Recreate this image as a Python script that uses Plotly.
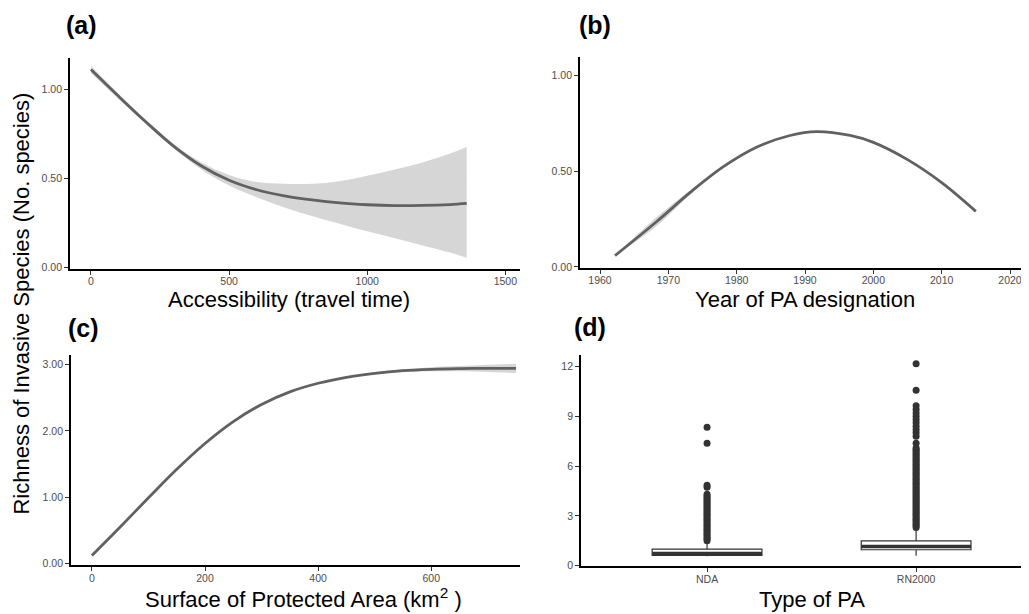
import plotly.graph_objects as go

# ---------------- data ----------------
# (a) Accessibility
a_x = [0, 100, 200, 300, 400, 500, 600, 700, 800, 900, 1000, 1100, 1200, 1300, 1360]
a_fit = [1.11, 0.96, 0.815, 0.68, 0.57, 0.49, 0.437, 0.403, 0.38, 0.363, 0.353, 0.348, 0.349, 0.354, 0.36]
a_upper = [1.13, 0.975, 0.827, 0.692, 0.59, 0.52, 0.48, 0.47, 0.47, 0.485, 0.515, 0.55, 0.59, 0.64, 0.676]
a_lower = [1.09, 0.945, 0.803, 0.668, 0.55, 0.46, 0.395, 0.338, 0.29, 0.247, 0.204, 0.165, 0.125, 0.085, 0.056]
a_xticks = [0, 500, 1000, 1500]
a_yticks = [0.0, 0.5, 1.0]
a_ytext = ["0.00", "0.50", "1.00"]

# (b) Year of designation
b_x = [1962.2, 1968.3, 1973.2, 1978.0, 1982.9, 1987.8, 1991.7, 1996.6, 2000, 2005, 2010, 2015]
b_fit = [0.059, 0.237, 0.389, 0.522, 0.625, 0.686, 0.706, 0.686, 0.65, 0.56, 0.44, 0.29]
b_upper = [0.059, 0.26, 0.40, 0.527, 0.628, 0.689, 0.709, 0.689, 0.653, 0.563, 0.443, 0.293]
b_lower = [0.059, 0.214, 0.378, 0.517, 0.622, 0.683, 0.703, 0.683, 0.647, 0.557, 0.437, 0.287]
b_xticks = [1960, 1970, 1980, 1990, 2000, 2010, 2020]
b_yticks = [0.0, 0.5, 1.0]
b_ytext = ["0.00", "0.50", "1.00"]

# (c) Surface of PA
c_x = [0, 50, 100, 150, 200, 250, 300, 350, 400, 450, 500, 550, 600, 650, 700, 750]
c_fit = [0.12, 0.55, 0.99, 1.42, 1.81, 2.14, 2.40, 2.59, 2.72, 2.81, 2.87, 2.91, 2.93, 2.94, 2.945, 2.945]
c_upper = [0.13, 0.56, 1.0, 1.43, 1.82, 2.15, 2.41, 2.60, 2.73, 2.82, 2.885, 2.93, 2.96, 2.98, 3.0, 3.015]
c_lower = [0.11, 0.54, 0.98, 1.41, 1.80, 2.13, 2.39, 2.58, 2.71, 2.80, 2.855, 2.89, 2.90, 2.90, 2.89, 2.875]
c_xticks = [0, 200, 400, 600]
c_yticks = [0.0, 1.0, 2.0, 3.0]
c_ytext = ["0.00", "1.00", "2.00", "3.00"]

# (d) Type of PA (box statistics)
d_types = ["NDA", "RN2000"]
d_q1 = [0.62, 0.96]
d_median = [0.74, 1.15]
d_q3 = [1.0, 1.5]
d_lowerfence = [0.57, 0.6]
d_upperfence = [1.4, 2.2]
d_out_nda = [1.5, 1.6, 1.7, 1.8, 1.9, 2.0, 2.1, 2.2, 2.3, 2.4, 2.5, 2.6, 2.7, 2.8, 2.9,
             3.0, 3.1, 3.2, 3.3, 3.4, 3.5, 3.6, 3.7, 3.8, 3.9, 4.0, 4.1, 4.2, 4.3,
             4.72, 4.85, 7.38, 8.33]
d_out_rn = [2.3, 2.4, 2.5, 2.6, 2.7, 2.8, 2.9, 3.0, 3.1, 3.2, 3.3, 3.4, 3.5, 3.6, 3.7,
            3.8, 3.9, 4.0, 4.1, 4.2, 4.3, 4.4, 4.5, 4.6, 4.7, 4.8, 4.9, 5.0, 5.1, 5.2,
            5.3, 5.4, 5.5, 5.6, 5.7, 5.8, 5.9, 6.0, 6.1, 6.2, 6.3, 6.4, 6.5, 6.6, 6.7,
            6.8, 6.9, 7.0, 7.08, 7.38, 7.8, 8.0, 8.2, 8.4, 8.6, 8.8, 9.0, 9.2, 9.4,
            9.63, 10.57, 12.16]
d_yticks = [0, 3, 6, 9, 12]

# ---------------- style ----------------
LINE = "#616161"
BAND = "rgb(214,214,214)"
FONT = "Liberation Sans, Arial, sans-serif"
TICKC = "#4d4d4d"

fig = go.Figure()


def add_smooth(x, fit, up, lo, xa, ya):
    fig.add_trace(go.Scatter(x=x, y=lo, mode="lines",
                             line=dict(width=0, shape="spline", color=BAND),
                             hoverinfo="skip", xaxis=xa, yaxis=ya))
    fig.add_trace(go.Scatter(x=x, y=up, mode="lines", fill="tonexty",
                             fillcolor=BAND, line=dict(width=0, shape="spline", color=BAND),
                             hoverinfo="skip", xaxis=xa, yaxis=ya))
    fig.add_trace(go.Scatter(x=x, y=fit, mode="lines",
                             line=dict(color=LINE, width=2.8, shape="spline"),
                             xaxis=xa, yaxis=ya))


add_smooth(a_x, a_fit, a_upper, a_lower, "x", "y")
add_smooth(b_x, b_fit, b_upper, b_lower, "x2", "y2")
add_smooth(c_x, c_fit, c_upper, c_lower, "x3", "y3")

# boxes
fig.add_trace(go.Box(x=d_types, q1=d_q1, median=d_median, q3=d_q3,
                     lowerfence=d_lowerfence, upperfence=d_upperfence,
                     fillcolor="white", line=dict(color="#333333", width=1.2),
                     whiskerwidth=0, boxpoints=False, xaxis="x4", yaxis="y4"))
fig.add_trace(go.Box(x=d_types, q1=d_median, median=d_median, q3=d_median,
                     lowerfence=d_median, upperfence=d_median,
                     fillcolor="rgba(0,0,0,0)", line=dict(color="#333333", width=3.5),
                     whiskerwidth=0, boxpoints=False, xaxis="x4", yaxis="y4"))
fig.add_trace(go.Scatter(x=["NDA"] * len(d_out_nda), y=d_out_nda, mode="markers",
                         marker=dict(color="#333333", size=7),
                         xaxis="x4", yaxis="y4"))
fig.add_trace(go.Scatter(x=["RN2000"] * len(d_out_rn), y=d_out_rn, mode="markers",
                         marker=dict(color="#333333", size=7),
                         xaxis="x4", yaxis="y4"))

# page has an 8px body margin: figure placed at (8, 8)
OFF = 8
W, H = 1021, 606


def px_x(p):
    return (p - OFF) / W


def px_y(p):
    return (H - (p - OFF)) / H


axis_common = dict(showline=True, linecolor="black", linewidth=1.8, ticks="outside",
                   ticklen=4, tickcolor="#333333", tickwidth=1, showgrid=False,
                   zeroline=False, tickfont=dict(family=FONT, size=10.5, color=TICKC),
                   mirror=False)
xaxis_extra = dict(ticklabelstandoff=-2)

fig.update_layout(
    width=W, height=H, margin=dict(l=0, r=0, t=0, b=0),
    paper_bgcolor="white", plot_bgcolor="white", showlegend=False,
    boxgap=0.25, boxmode="overlay",
    xaxis=dict(domain=[px_x(70), px_x(520)], range=[-76, 1553], tickvals=a_xticks,
               anchor="y", **axis_common, **xaxis_extra),
    yaxis=dict(domain=[px_y(271), px_y(58)], range=[-0.006, 1.177], tickvals=a_yticks,
               ticktext=a_ytext, anchor="x", **axis_common),
    xaxis2=dict(domain=[px_x(580), 1.0], range=[1957.07, 2022.78], tickvals=b_xticks,
                anchor="y2", **axis_common, **xaxis_extra),
    yaxis2=dict(domain=[px_y(270), px_y(57)], range=[-0.005, 1.098], tickvals=b_yticks,
                ticktext=b_ytext, anchor="x2", **axis_common),
    xaxis3=dict(domain=[px_x(71), px_x(520)], range=[-37, 757], tickvals=c_xticks,
                anchor="y3", **axis_common, **xaxis_extra),
    yaxis3=dict(domain=[px_y(570), px_y(358)], range=[-0.03, 3.145], tickvals=c_yticks,
                ticktext=c_ytext, anchor="x3", **axis_common),
    xaxis4=dict(domain=[px_x(581), 1.0], range=[-0.603, 1.54], type="category",
                anchor="y4", **axis_common, **xaxis_extra),
    yaxis4=dict(domain=[px_y(571), px_y(358)], range=[-0.04, 12.68], tickvals=d_yticks,
                anchor="x4", **axis_common),
)

TITLE = dict(family=FONT, size=22, color="black")
LABEL = dict(family=FONT, size=25, color="black")
ann = [
    dict(text="<b>(a)</b>", x=px_x(64), y=px_y(25), xanchor="left", yanchor="middle", font=LABEL),
    dict(text="<b>(b)</b>", x=px_x(577), y=px_y(25), xanchor="left", yanchor="middle", font=LABEL),
    dict(text="<b>(c)</b>", x=px_x(66), y=px_y(331), xanchor="left", yanchor="middle", font=LABEL),
    dict(text="<b>(d)</b>", x=px_x(572), y=px_y(330), xanchor="left", yanchor="middle", font=LABEL),
    dict(text="Accessibility (travel time)", x=px_x(289), y=px_y(302), xanchor="center",
         yanchor="middle", font=TITLE),
    dict(text="Year of PA designation", x=px_x(805), y=px_y(302), xanchor="center",
         yanchor="middle", font=TITLE),
    dict(text="Surface of Protected Area (km<sup>2</sup> )", x=px_x(303), y=px_y(603),
         xanchor="center", yanchor="middle", font=TITLE),
    dict(text="Type of PA", x=px_x(812), y=px_y(604), xanchor="center", yanchor="middle",
         font=TITLE),
    dict(text="Richness of Invasive Species (No. species)", x=px_x(22), y=px_y(306),
         xanchor="center", yanchor="middle", textangle=-90, font=TITLE),
]
for a in ann:
    a.update(xref="paper", yref="paper", showarrow=False)
fig.update_layout(annotations=ann)

fig.write_html("out.html")
